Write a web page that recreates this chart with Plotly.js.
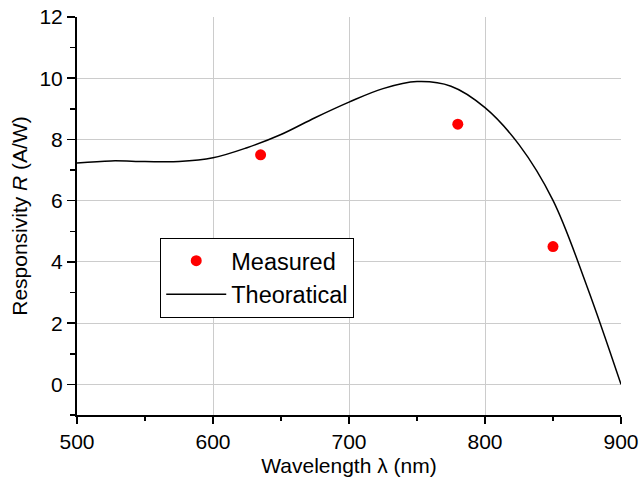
<!DOCTYPE html>
<html>
<head>
<meta charset="utf-8">
<script src="https://cdn.plot.ly/plotly-3.0.1.min.js"></script>
<style>html,body{margin:0;padding:0;background:#fff;}#chart{width:639px;height:482px;}</style>
</head>
<body>
<div id="chart"></div>
<script>
// Measured points
var measuredX = [635, 780, 850];
var measuredY = [7.5, 8.5, 4.5];
// Theoretical curve (every 25 nm)
var theoryX = [500, 525, 550, 575, 600, 625, 650, 675, 700, 725, 750, 775, 800, 825, 850, 875, 900];
var theoryY = [7.23, 7.30, 7.28, 7.28, 7.40, 7.73, 8.16, 8.71, 9.22, 9.66, 9.89, 9.74, 9.04, 7.83, 6.01, 3.20, 0.0];
var seriesNames = ["Measured", "Theoratical"];

var font = "Arial, 'Liberation Sans', sans-serif";

var traces = [
  {x: measuredX, y: measuredY, name: seriesNames[0], type: "scatter", mode: "markers",
   marker: {color: "#ff0000", size: 11}},
  {x: theoryX, y: theoryY, name: seriesNames[1], type: "scatter", mode: "lines",
   line: {color: "#000000", width: 1.5, shape: "spline", smoothing: 1}}
];

var layout = {
  width: 639, height: 482,
  margin: {l: 77, r: 18, t: 17, b: 67},
  paper_bgcolor: "#ffffff", plot_bgcolor: "#ffffff",
  font: {family: font, color: "#000", size: 21},
  showlegend: true,
  legend: {x: 0.153, y: 0.445, xanchor: "left", yanchor: "top",
           bgcolor: "#ffffff", bordercolor: "#000", borderwidth: 1,
           font: {size: 23.5, family: font, color: "#000"}, itemwidth: 60},
  xaxis: {
    range: [500, 900], dtick: 100, tick0: 500,
    showgrid: true, gridcolor: "#cccccc", gridwidth: 1,
    zeroline: false, showline: true, linecolor: "#000", linewidth: 2,
    ticks: "outside", ticklen: 7, tickwidth: 1.5, tickcolor: "#000",
    minor: {dtick: 50, ticks: "outside", ticklen: 4, tickwidth: 1.5, tickcolor: "#000", showgrid: false},
    tickfont: {size: 21, family: font},
    title: {text: "Wavelength \u03bb (nm)", font: {size: 21, family: font}, standoff: 6},
    automargin: false
  },
  yaxis: {
    range: [-1, 12], dtick: 2, tick0: 0,
    showgrid: true, gridcolor: "#cccccc", gridwidth: 1,
    zeroline: false, showline: true, linecolor: "#000", linewidth: 2,
    ticks: "outside", ticklen: 8, tickwidth: 1.5, tickcolor: "#000",
    minor: {dtick: 1, ticks: "outside", ticklen: 5, tickwidth: 1.5, tickcolor: "#000", showgrid: false},
    tickfont: {size: 21, family: font},
    title: {text: "Responsivity <i>R</i> (A/W)", font: {size: 21, family: font}, standoff: 6},
    automargin: false
  }
};

Plotly.newPlot("chart", traces, layout, {staticPlot: true, displayModeBar: false});
</script>
</body>
</html>
